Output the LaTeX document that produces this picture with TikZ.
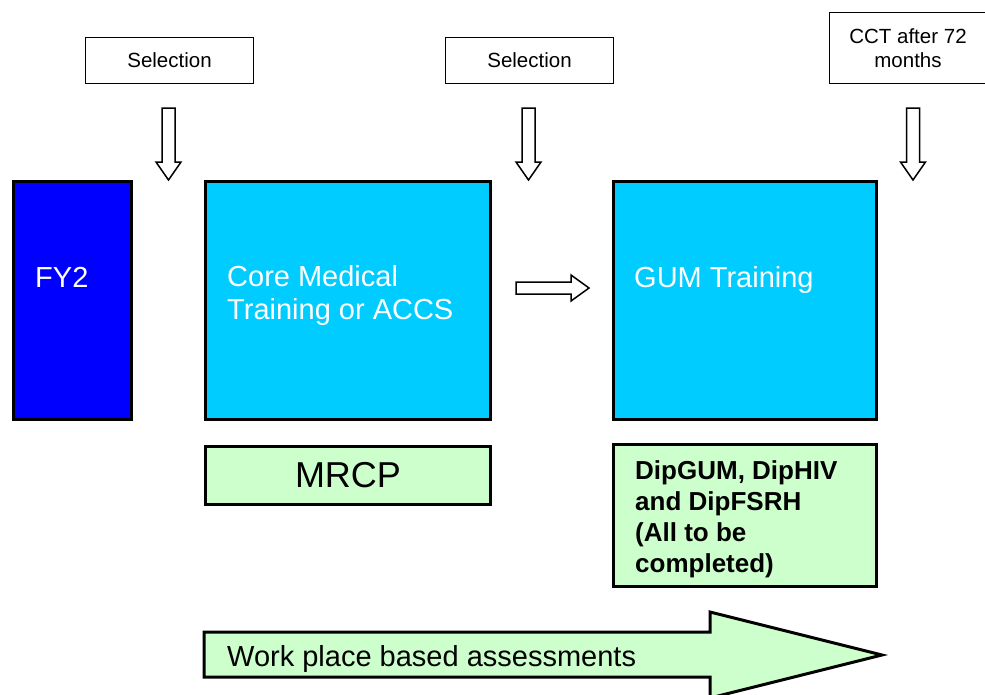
\documentclass[tikz,border=0pt]{standalone}
\usepackage{fontspec}
\setmainfont{Liberation Sans}
\definecolor{fyblue}{RGB}{0,0,255}
\definecolor{cyanbox}{RGB}{0,204,255}
\definecolor{lightgreen}{RGB}{204,255,204}
\begin{document}
\begin{tikzpicture}[x=1pt,y=-1pt,
  bigbox/.style={draw=black, line width=3pt, inner sep=0pt, anchor=north west},
  selbox/.style={draw=black, line width=1pt, inner sep=0pt, anchor=north west, align=center,
     font=\fontsize{20.5}{24}\selectfont},
  hollow/.style={draw=black, line width=1.5pt, fill=white, line join=miter},
  bigtext/.style={inner sep=0pt, font=\fontsize{29}{33}\selectfont},
]
\useasboundingbox (0,0) rectangle (985,694);

% top boxes
\node[selbox, minimum width=168pt, minimum height=46pt] (sel1) at (85,37) {Selection};
\node[selbox, minimum width=168pt, minimum height=46pt] (sel2) at (445,37) {Selection};
\node[selbox, minimum width=157pt, minimum height=71pt] (cct) at (829,12) {CCT after 72\\months};

% hollow down arrows
\foreach \c/\n in {168.5/a1, 528.5/a2, 913/a3}{
  \draw[hollow] (\c-6.5,108) -- (\c+6.5,108) -- (\c+6.5,162) -- (\c+12.5,162)
     -- (\c,180) -- (\c-12.5,162) -- (\c-6.5,162) -- cycle;
}

% main boxes
\node[bigbox, fill=fyblue, minimum width=118pt, minimum height=238pt] (fy2) at (12,180) {};
\node[bigbox, fill=cyanbox, minimum width=285pt, minimum height=238pt] (cmt) at (204,180) {};
\node[bigbox, fill=cyanbox, minimum width=263pt, minimum height=238pt] (gum) at (612,180) {};
\node[bigbox, fill=lightgreen, minimum width=285pt, minimum height=58pt,
      font=\fontsize{36}{40}\selectfont] (mrcp) at (204,445) {MRCP};
\node[bigbox, fill=lightgreen, minimum width=263pt, minimum height=142pt] (dip) at (612,443) {};

% texts
\node[bigtext, text=white, anchor=base west] (fy2t) at (35,287) {FY2};
\node[bigtext, text=white, anchor=north west, align=left] (cmtt) at (227,265)
  {Core Medical\\Training or ACCS};
\node[bigtext, text=white, anchor=base west] (gumt) at (634,287) {GUM Training};
\node[inner sep=0pt, anchor=north west, align=left,
      font=\fontsize{26}{31}\selectfont\bfseries] (dipt) at (635,460)
  {DipGUM, DipHIV\\and DipFSRH\\(All to be\\completed)};

% right hollow arrow
\draw[hollow] (516,282) -- (571,282) -- (571,275) -- (589,288) -- (571,301)
   -- (571,294) -- (516,294) -- cycle;

% big arrow
\draw[line width=3pt, fill=lightgreen, line join=miter]
  (204,632) -- (710,632) -- (710,612) -- (882,655) -- (710,698) -- (710,677)
  -- (204,677) -- cycle;
\node[bigtext, anchor=base west] (wpba) at (227,666) {Work place based assessments};
\end{tikzpicture}
\end{document}
